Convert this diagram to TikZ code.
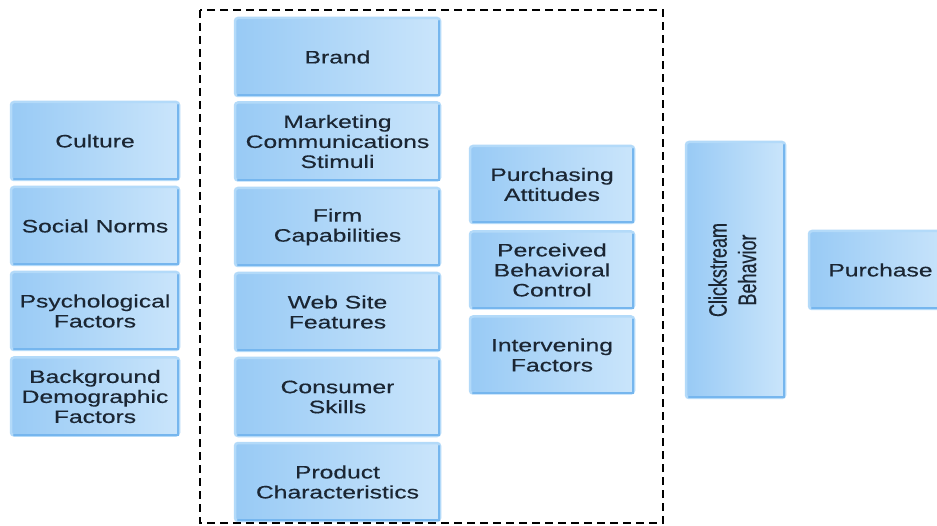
\documentclass[tikz,border=0pt]{standalone}
\usepackage{fontspec}
\setmainfont{Liberation Sans}
\newfontfamily\boxfont[FakeStretch=1.37,FakeBold=0.4]{Liberation Sans}
\newfontfamily\rotfont[FakeBold=0.4]{Liberation Sans}
\definecolor{boxL}{HTML}{98CAF5}
\definecolor{boxR}{HTML}{CAE5FB}
\definecolor{boxEdge}{HTML}{B3DAF9}
\definecolor{boxDark}{HTML}{76B6EE}
\definecolor{txt}{HTML}{1B2633}
\begin{document}
\begin{tikzpicture}[x=1pt,y=-1pt,
  bx/.style={rounded corners=3pt, draw=boxEdge, line width=2.5pt,
    left color=boxL, right color=boxR, text=txt,
    font=\boxfont\fontsize{18}{20}\selectfont, align=center, inner sep=0pt},
  colA/.style={bx, minimum width=168pt, minimum height=78pt},
  colB/.style={bx, minimum width=205pt, minimum height=78pt},
  colC/.style={bx, minimum width=164pt, minimum height=77pt},
  group/.style={draw=black, line width=1.5pt, dash pattern=on 8pt off 5pt}]
\clip (0,0) rectangle (937,526);
\fill[white] (0,0) rectangle (937,526);
% left column
\node[colA] (cul) at (95,141) {Culture};
\node[colA] (soc) at (95,226) {Social Norms};
\node[colA] (psy) at (95,311) {Psychological\\Factors};
\node[colA] (bac) at (95,396.5) {Background\\Demographic\\Factors};
% middle column
\node[colB] (bra) at (337.5,57) {Brand};
\node[colB] (mar) at (337.5,141.5) {Marketing\\Communications\\Stimuli};
\node[colB] (fir) at (337.5,227) {Firm\\Capabilities};
\node[colB] (web) at (337.5,312) {Web Site\\Features};
\node[colB] (con) at (337.5,397) {Consumer\\Skills};
\node[colB] (pro) at (337.5,482) {Product\\Characteristics};
% third column
\node[colC] (att) at (552,184.5) {Purchasing\\Attitudes};
\node[colC] (pbc) at (552,270) {Perceived\\Behavioral\\Control};
\node[colC] (int) at (552,355) {Intervening\\Factors};
% clickstream
\node[bx, minimum width=99pt, minimum height=256pt] (cli) at (735.5,270)
  {\rotatebox{90}{\scalebox{1}[1.4]{\rotfont\fontsize{18}{21}\selectfont
   \begin{tabular}{@{}c@{}}Clickstream\\Behavior\end{tabular}}}};
% purchase
\node[bx, minimum width=143pt, minimum height=78pt] (pur) at (880.5,270) {Purchase};
% darker bottom/right inner edges
\foreach \n in {cul,soc,psy,bac,bra,mar,fir,web,con,pro,att,pbc,int,cli,pur}{
  \draw[boxDark, line width=1.6pt, line cap=round]
    ([xshift=4pt,yshift=2pt]\n.south west) -- ([xshift=-2pt,yshift=2pt]\n.south east)
    -- ([xshift=-2pt,yshift=-4pt]\n.north east);
}
% dashed group frame
\draw[group] (200,10) rectangle (663,523);
\end{tikzpicture}
\end{document}
